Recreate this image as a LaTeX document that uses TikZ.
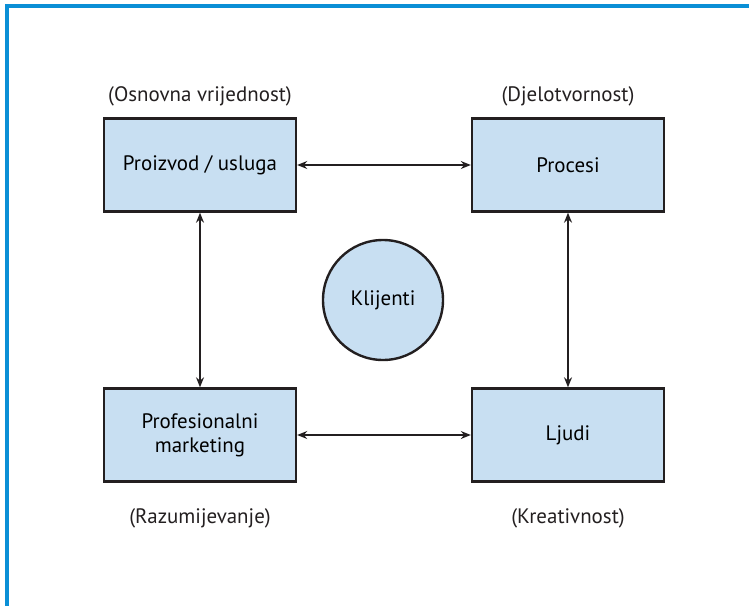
\documentclass[tikz,border=0pt]{standalone}
\usepackage{fontspec}
\setmainfont{PT Sans}
\usepackage{xcolor}
\usetikzlibrary{arrows.meta, positioning}
\definecolor{framblue}{HTML}{0A8FD6}
\definecolor{boxfill}{HTML}{C8DFF2}
\definecolor{boxline}{HTML}{231F20}

\begin{document}
\begin{tikzpicture}[
    x=1bp, y=-1bp,
    box/.style={rectangle, draw=boxline, line width=2.4bp, fill=boxfill, minimum width=192bp, minimum height=93bp, align=center, font=\fontsize{21}{24}\selectfont},
    hub/.style={circle, draw=boxline, line width=2.4bp, fill=boxfill, minimum size=120bp, font=\fontsize{21}{24}\selectfont},
    tag/.style={font=\fontsize{21}{24}\selectfont, text=boxline},
    arrow/.style={{Stealth[length=10bp, width=8bp]}-{Stealth[length=10bp, width=8bp]}, line width=1.3bp, color=boxline}
]
    \useasboundingbox (0,0) rectangle (749,606);

    % --- Frame ---
    \draw[framblue, line width=4bp] (7,606) -- (7,6) -- (749,6);

    % --- Boxes ---
    \node[box] (product) at (200,165) {Proizvod / usluga};
    \node[box] (process) at (568,165) {Procesi};
    \node[box] (marketing) at (200,435) {Profesionalni\\marketing};
    \node[box] (people) at (568,435) {Ljudi};

    % Centre
    \node[hub] (clients) at (383,300) {Klijenti};

    % --- Labels ---
    \node[tag] (product-tag) at (200,96) {(Osnovna vrijednost)};
    \node[tag] (process-tag) at (568,96) {(Djelotvornost)};
    \node[tag] (marketing-tag) at (200,518) {(Razumijevanje)};
    \node[tag] (people-tag) at (568,518) {(Kreativnost)};

    % --- Connections ---
    \draw[arrow] (product) -- (process);
    \draw[arrow] (marketing) -- (people);
    \draw[arrow] (product) -- (marketing);
    \draw[arrow] (process) -- (people);

\end{tikzpicture}
\end{document}
